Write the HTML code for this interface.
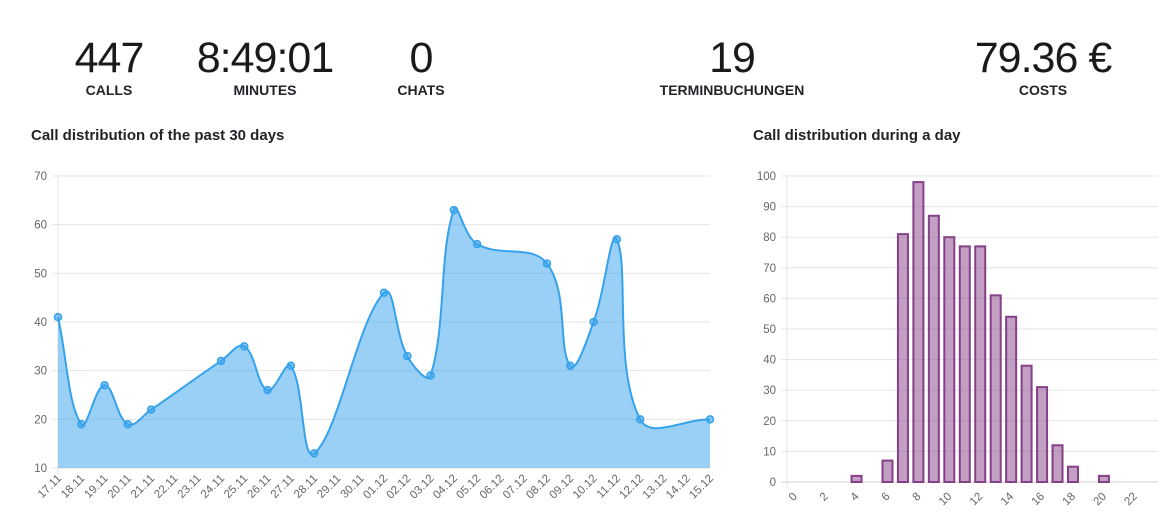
<!DOCTYPE html>
<html><head><meta charset="utf-8"><style>
body{margin:0;width:1171px;height:531px;background:#fff;font-family:"Liberation Sans",sans-serif;overflow:hidden;position:relative;color:#212529}
.st{position:absolute;top:33px;text-align:center;width:220px;margin-left:-110px}
.st .n{font-size:43px;line-height:50px;color:#1a1a1a;letter-spacing:-1px}
.st .l{font-size:14px;font-weight:bold;line-height:14px;margin-top:0px}
.t{position:absolute;top:127px;font-size:15px;font-weight:bold}
svg{position:absolute;left:0;top:0}
</style></head><body>
<div class="st" style="left:109px"><div class="n">447</div><div class="l">CALLS</div></div>
<div class="st" style="left:265px"><div class="n">8:49:01</div><div class="l">MINUTES</div></div>
<div class="st" style="left:421px"><div class="n">0</div><div class="l">CHATS</div></div>
<div class="st" style="left:732px"><div class="n">19</div><div class="l">TERMINBUCHUNGEN</div></div>
<div class="st" style="left:1043px"><div class="n">79.36 €</div><div class="l">COSTS</div></div>
<div class="t" style="left:31px">Call distribution of the past 30 days</div>
<div class="t" style="left:753px">Call distribution during a day</div>
<svg id="s" width="1171" height="531" font-family="Liberation Sans, sans-serif" font-size="11.5" fill="#666"></svg>
<script>
var s=document.getElementById('s'),h='';
var X0=58,X1=710,Y70=176,Y10=468;
function ly(v){return Y10-(v-10)*(Y10-Y70)/60}
for(var v=10;v<=70;v+=10){var y=ly(v);h+='<line x1="52" x2="710" y1="'+y+'" y2="'+y+'" stroke="#e5e5e5"/>';h+='<text x="47" y="'+(y+4)+'" text-anchor="end">'+v+'</text>';}
h+='<line x1="58" x2="58" y1="176" y2="474" stroke="#e5e5e5"/>';
var d=[];
var dd=['17.11','18.11','19.11','20.11','21.11','22.11','23.11','24.11','25.11','26.11','27.11','28.11','29.11','30.11','01.12','02.12','03.12','04.12','05.12','06.12','07.12','08.12','09.12','10.12','11.12','12.12','13.12','14.12','15.12'];
var vals={0:41,1:19,2:27,3:19,4:22,7:32,8:35,9:26,10:31,11:13,14:46,15:33,16:29,17:63,18:56,21:52,22:31,23:40,24:57,25:20,28:20};
var step=(X1-X0)/28;
for(var i=0;i<29;i++){var x=X0+i*step;h+='<text transform="translate('+(x+4)+',479) rotate(-45)" text-anchor="end">'+dd[i]+'</text>';if(vals[i]!==undefined)d.push([x,ly(vals[i])]);}
var cp=[];
for(var i=0;i<d.length;i++){var p=d[i-1]||d[i],c=d[i],n=d[i+1]||d[i];
var d01=Math.hypot(c[0]-p[0],c[1]-p[1]),d12=Math.hypot(n[0]-c[0],n[1]-c[1]);
var s01=d01/(d01+d12)||0,s12=d12/(d01+d12)||0,fa=0.4*s01,fb=0.4*s12;
cp.push([[c[0]-fa*(n[0]-p[0]),c[1]-fa*(n[1]-p[1])],[c[0]+fb*(n[0]-p[0]),c[1]+fb*(n[1]-p[1])]]);}
var path='M'+d[0][0]+','+d[0][1];
for(var i=1;i<d.length;i++){path+=' C'+cp[i-1][1][0]+','+cp[i-1][1][1]+' '+cp[i][0][0]+','+cp[i][0][1]+' '+d[i][0]+','+d[i][1];}
h+='<path d="'+path+' L'+X1+','+Y10+' L'+X0+','+Y10+'Z" fill="rgba(54,162,235,0.5)"/>';
h+='<path d="'+path+'" fill="none" stroke="#36a2eb" stroke-width="2"/>';
for(var i=0;i<d.length;i++)h+='<circle cx="'+d[i][0]+'" cy="'+d[i][1]+'" r="3.5" fill="rgba(54,162,235,0.6)" stroke="#36a2eb" stroke-width="1.5"/>';
var RX0=787,RX1=1158,R100=176,R0=482;
function ry(v){return R0-v*(R0-R100)/100}
for(var v=0;v<=100;v+=10){var y=ry(v);h+='<line x1="781" x2="1158" y1="'+y+'" y2="'+y+'" stroke="'+(v==0?'#d0d0d0':'#e5e5e5')+'"/>';h+='<text x="776" y="'+(y+4)+'" text-anchor="end">'+v+'</text>';}
h+='<line x1="787" x2="787" y1="176" y2="488" stroke="#e5e5e5"/>';
var cw=(RX1-RX0)/24;
var bv={4:2,6:7,7:81,8:98,9:87,10:80,11:77,12:77,13:61,14:54,15:38,16:31,17:12,18:5,20:2};
for(var k=0;k<24;k++){var cx=RX0+(k+0.5)*cw;
if(k%2==0)h+='<text transform="translate('+(cx+3)+',497) rotate(-45)" text-anchor="end">'+k+'</text>';
if(bv[k]){var y=ry(bv[k]);h+='<rect x="'+(cx-5)+'" y="'+y+'" width="10" height="'+(R0-y)+'" fill="rgba(133,64,136,0.5)" stroke="#854088" stroke-width="2"/>';}}
s.innerHTML=h;
</script>
</body></html>
